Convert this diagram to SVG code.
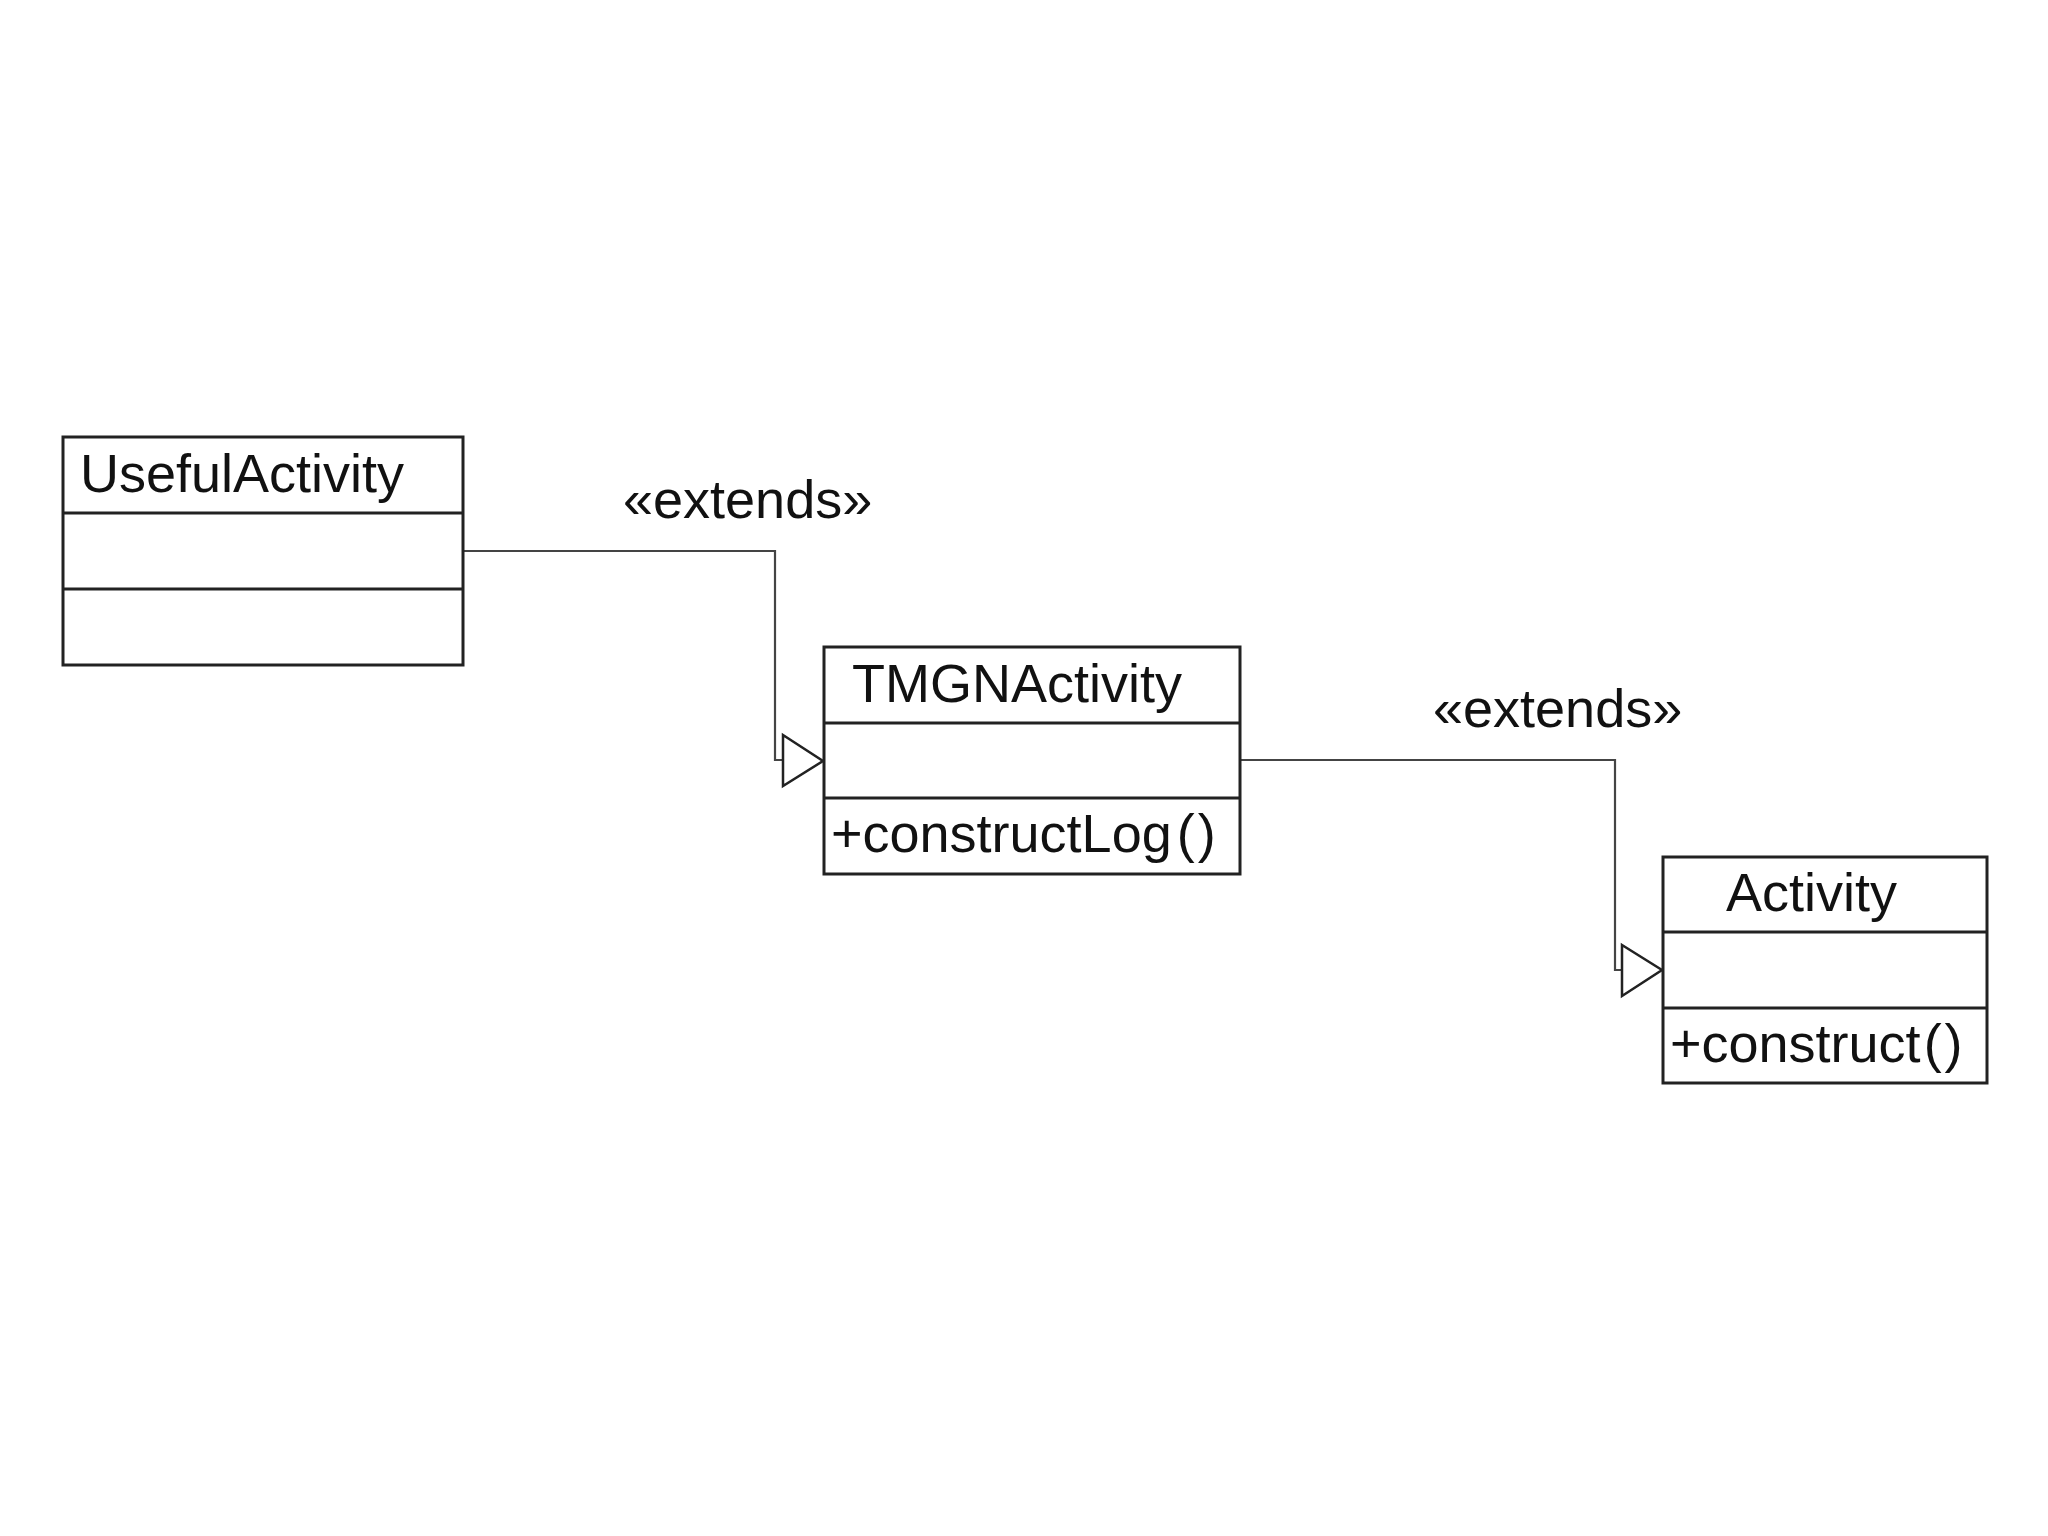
<svg xmlns="http://www.w3.org/2000/svg" width="2048" height="1536" viewBox="0 0 2048 1536">
<style>
.box{fill:#ffffff;stroke:#222222;stroke-width:3}
.div{stroke:#222222;stroke-width:3}
.t{font-family:"Liberation Sans",Arial,sans-serif;font-size:54px;fill:#111111}
.conn{fill:none;stroke:#444444;stroke-width:2.2}
.head{fill:#ffffff;stroke:#222222;stroke-width:2.5;stroke-linejoin:miter}
</style>
<rect x="0" y="0" width="2048" height="1536" fill="#ffffff"/>
<g id="connectors">
<polyline class="conn" points="463,551 775,551 775,760 783,760"/>
<polygon class="head" points="783,735 823,761 783,786"/>
<text class="t" x="623" y="518">«extends»</text>
<polyline class="conn" points="1240,760 1615,760 1615,970 1622,970"/>
<polygon class="head" points="1622,945 1662,970 1622,996"/>
<text class="t" x="1433" y="727">«extends»</text>
</g>
<g id="UsefulActivity">
<rect class="box" x="63" y="437" width="400" height="228"/>
<line class="div" x1="63" y1="513" x2="463" y2="513"/>
<line class="div" x1="63" y1="589" x2="463" y2="589"/>
<text class="t" x="80" y="492">UsefulActivity</text>
</g>
<g id="TMGNActivity">
<rect class="box" x="824" y="647" width="416" height="227"/>
<line class="div" x1="824" y1="723" x2="1240" y2="723"/>
<line class="div" x1="824" y1="798" x2="1240" y2="798"/>
<text class="t" x="852" y="702">TMGNActivity</text>
<text class="t" x="831" y="852">+constructLog<tspan dx="5">(</tspan><tspan dx="3">)</tspan></text>
</g>
<g id="Activity">
<rect class="box" x="1663" y="857" width="324" height="226"/>
<line class="div" x1="1663" y1="932" x2="1987" y2="932"/>
<line class="div" x1="1663" y1="1008" x2="1987" y2="1008"/>
<text class="t" x="1726" y="911">Activity</text>
<text class="t" x="1670" y="1062">+construct<tspan dx="3">(</tspan><tspan dx="3">)</tspan></text>
</g>
</svg>
